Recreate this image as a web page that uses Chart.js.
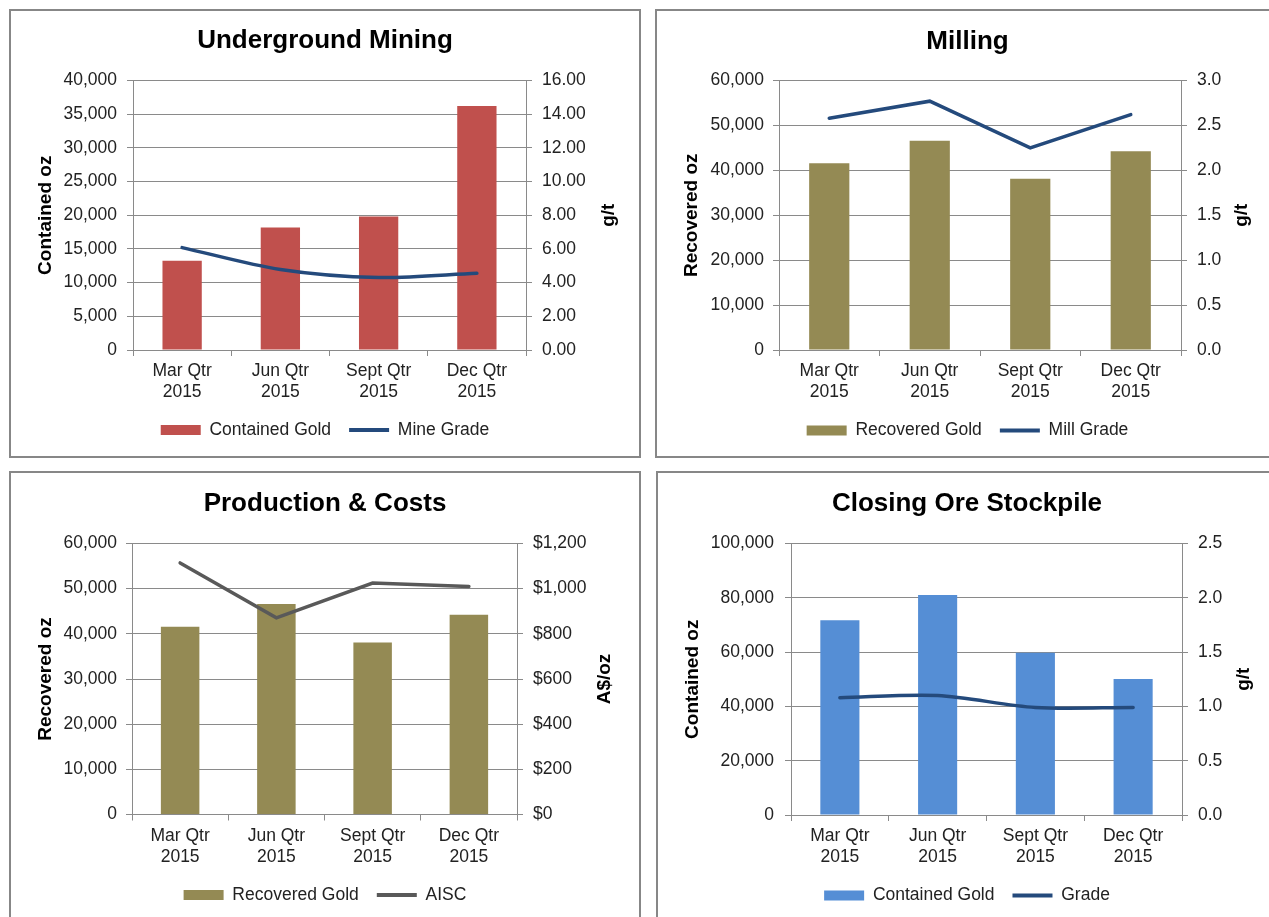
<!DOCTYPE html>
<html>
<head>
<meta charset="utf-8">
<script src="https://cdn.jsdelivr.net/npm/chart.js@4.4.1/dist/chart.umd.min.js"></script>
<style>
html, body { margin: 0; padding: 0; background: #fff; width: 1269px; height: 917px; overflow: hidden; position: relative; }
.panel { position: absolute; border: 2px solid #878787; box-sizing: border-box; background: #fff; overflow: hidden; }
.panel canvas { position: absolute; left: 0; top: 0; }
</style>
</head>
<body>
<div class="panel" id="p1"><canvas></canvas></div>
<div class="panel" id="p2"><canvas></canvas></div>
<div class="panel" id="p3"><canvas></canvas></div>
<div class="panel" id="p4"><canvas></canvas></div>
<script>
// quarters shown on every chart
const quarters = [['Mar Qtr', '2015'], ['Jun Qtr', '2015'], ['Sept Qtr', '2015'], ['Dec Qtr', '2015']];

// Underground Mining
const containedGold = [13250, 18200, 19800, 36200];
const mineGrade = [6.08, 4.78, 4.30, 4.55];
const miningOzTicks = [0, 40000, 5000];
const miningGradeTicks = [0, 16, 2];

// Milling
const recoveredGold = [41550, 46600, 38100, 44250];
const millGrade = [2.58, 2.77, 2.25, 2.62];
const millOzTicks = [0, 60000, 10000];
const millGradeTicks = [0, 3, 0.5];

// Production & Costs
const aisc = [1114, 871, 1025, 1010];
const prodOzTicks = [0, 60000, 10000];
const aiscTicks = [0, 1200, 200];

// Closing Ore Stockpile
const stockpileGold = [71700, 81000, 59800, 50100];
const stockpileGrade = [1.08, 1.10, 0.99, 0.99];
const stockOzTicks = [0, 100000, 20000];
const stockGradeTicks = [0, 2.5, 0.5];

const FONT = 'Liberation Sans, Arial, sans-serif';
const TITLE_SIZE = 26, AXIS_TITLE_SIZE = 19, TICK_SIZE = 17.5, LEG_SIZE = 17.5, LEG_PAD = 18;
const GRID = '#8a8a8a', TEXT = '#222222';
Chart.defaults.font.family = FONT;

const fmtInt = v => Number(v).toLocaleString('en-US');

// right hand axis title, read bottom to top like the Excel original
const rightTitlePlugin = {
    id: 'rightTitle',
    afterDraw(chart, args, opts) {
        const { ctx, chartArea } = chart;
        ctx.save();
        ctx.translate(opts.x, (chartArea.top + chartArea.bottom) / 2);
        ctx.rotate(-Math.PI / 2);
        ctx.font = 'bold ' + AXIS_TITLE_SIZE + 'px ' + FONT;
        ctx.fillStyle = '#000';
        ctx.textAlign = 'center';
        ctx.textBaseline = 'middle';
        ctx.fillText(opts.text, 0, 0);
        ctx.restore();
    }
};

function makePanel(id, g, s) {
    const panel = document.getElementById(id);
    const [bl, bt, br, bb] = g.box;
    Object.assign(panel.style, { left: bl + 'px', top: bt + 'px', width: (br - bl) + 'px', height: (bb - bt) + 'px' });
    const cl = bl + 2, ct = bt + 2;
    const cw = br - bl - 4, ch = bb - bt - 4 + 40;
    const canvas = panel.querySelector('canvas');
    canvas.width = cw; canvas.height = ch;
    canvas.style.width = cw + 'px'; canvas.style.height = ch + 'px';

    const [pl, pr, pt, pb] = g.plot;
    const leftW = pl - cl, rightW = cl + cw - pr;
    const tH = TITLE_SIZE * 1.2;
    const titleTop = g.titleY - ct - tH / 2;
    const titleBottom = (pt - ct) - titleTop - tH;
    const legTop = (g.legendY - ct) - LEG_PAD - LEG_SIZE / 2;
    const legBottom = legTop + LEG_PAD + LEG_SIZE + 10;
    const xH = legTop - (pb - ct);
    const aH = AXIS_TITLE_SIZE * 1.2 / 2;

    new Chart(canvas, {
        type: 'bar',
        data: {
            labels: quarters,
            datasets: [{
                type: 'line',
                label: s.lineLabel,
                data: s.lineData,
                yAxisID: 'y1',
                borderColor: s.lineColor,
                backgroundColor: s.lineColor,
                borderWidth: 3.5,
                pointRadius: 0,
                tension: s.tension,
                borderCapStyle: 'round'
            }, {
                type: 'bar',
                label: s.barLabel,
                data: s.barData,
                yAxisID: 'y',
                backgroundColor: s.barColor,
                borderWidth: 0,
                categoryPercentage: 1,
                barPercentage: 0.4
            }]
        },
        plugins: [rightTitlePlugin],
        options: {
            responsive: false,
            animation: false,
            layout: { padding: { left: 0, right: 0, top: 0, bottom: ch - legBottom } },
            plugins: {
                rightTitle: { text: s.rightTitle, x: g.rightTitleX - cl },
                title: {
                    display: true,
                    text: s.title,
                    color: '#000',
                    font: { size: TITLE_SIZE, weight: 'bold', lineHeight: 1.2 },
                    padding: { top: titleTop, bottom: titleBottom }
                },
                legend: {
                    position: 'bottom',
                    reverse: true,
                    labels: {
                        usePointStyle: true,
                        pointStyleWidth: 40,
                        boxHeight: 10,
                        padding: LEG_PAD,
                        color: TEXT,
                        font: { size: LEG_SIZE },
                        generateLabels: chart => Chart.defaults.plugins.legend.labels.generateLabels(chart).map(item => {
                            const ds = chart.data.datasets[item.datasetIndex];
                            item.pointStyle = ds.type === 'line' ? 'line' : 'rect';
                            item.lineWidth = ds.type === 'line' ? 4 : 0;
                            return item;
                        })
                    }
                },
                tooltip: { enabled: false }
            },
            scales: {
                x: {
                    offset: true,
                    grid: { offset: true, drawOnChartArea: false, tickLength: 6, color: GRID },
                    border: { display: true, color: GRID },
                    ticks: { color: TEXT, font: { size: TICK_SIZE, lineHeight: 1.2 }, padding: 5, maxRotation: 0, autoSkip: false },
                    afterFit: sc => { sc.height = xH; }
                },
                y: {
                    position: 'left',
                    min: s.leftTicks[0], max: s.leftTicks[1],
                    ticks: { stepSize: s.leftTicks[2], color: TEXT, font: { size: TICK_SIZE }, padding: g.padL, callback: fmtInt },
                    grid: { color: GRID, tickLength: 6 },
                    border: { display: true, color: GRID },
                    title: {
                        display: true, text: s.leftTitle, color: '#000',
                        font: { size: AXIS_TITLE_SIZE, weight: 'bold', lineHeight: 1.2 },
                        padding: { top: g.leftTitleX - cl - aH, bottom: 0 }
                    },
                    afterFit: sc => { sc.width = leftW; }
                },
                y1: {
                    position: 'right',
                    min: s.rightTicks[0], max: s.rightTicks[1],
                    ticks: { stepSize: s.rightTicks[2], color: TEXT, font: { size: TICK_SIZE }, padding: g.padR, callback: s.rightFmt },
                    grid: { drawOnChartArea: false, color: GRID, tickLength: 6 },
                    border: { display: true, color: GRID },
                    afterFit: sc => { sc.width = rightW; }
                }
            }
        }
    });
}

makePanel('p1', { box: [9, 9, 641, 458], plot: [133, 526, 80.5, 350], titleY: 41, legendY: 430, leftTitleX: 46, rightTitleX: 609, padL: 10, padR: 10 }, {
    title: 'Underground Mining', barLabel: 'Contained Gold', barData: containedGold, barColor: '#C0504D',
    lineLabel: 'Mine Grade', lineData: mineGrade, lineColor: '#244A7C', tension: 0.3,
    leftTitle: 'Contained oz', rightTitle: 'g/t', leftTicks: miningOzTicks, rightTicks: miningGradeTicks,
    rightFmt: v => Number(v).toFixed(2)
});

makePanel('p2', { box: [655, 9, 1280, 458], plot: [779, 1181, 80.5, 350], titleY: 41.5, legendY: 430.5, leftTitleX: 692, rightTitleX: 1242, padL: 9, padR: 10 }, {
    title: 'Milling', barLabel: 'Recovered Gold', barData: recoveredGold, barColor: '#948A54',
    lineLabel: 'Mill Grade', lineData: millGrade, lineColor: '#244A7C', tension: 0,
    leftTitle: 'Recovered oz', rightTitle: 'g/t', leftTicks: millOzTicks, rightTicks: millGradeTicks,
    rightFmt: v => Number(v).toFixed(1)
});

makePanel('p3', { box: [9, 471, 641, 960], plot: [132, 517, 543.5, 814.5], titleY: 504, legendY: 895, leftTitleX: 46, rightTitleX: 605, padL: 9, padR: 10 }, {
    title: 'Production & Costs', barLabel: 'Recovered Gold', barData: recoveredGold, barColor: '#948A54',
    lineLabel: 'AISC', lineData: aisc, lineColor: '#595959', tension: 0,
    leftTitle: 'Recovered oz', rightTitle: 'A$/oz', leftTicks: prodOzTicks, rightTicks: aiscTicks,
    rightFmt: v => '$' + fmtInt(v)
});

makePanel('p4', { box: [656, 471, 1278, 960], plot: [791, 1182, 543.5, 815], titleY: 504, legendY: 895.5, leftTitleX: 693, rightTitleX: 1244, padL: 11, padR: 10 }, {
    title: 'Closing Ore Stockpile', barLabel: 'Contained Gold', barData: stockpileGold, barColor: '#558ED5',
    lineLabel: 'Grade', lineData: stockpileGrade, lineColor: '#244A7C', tension: 0.3,
    leftTitle: 'Contained oz', rightTitle: 'g/t', leftTicks: stockOzTicks, rightTicks: stockGradeTicks,
    rightFmt: v => Number(v).toFixed(1)
});
</script>
</body>
</html>
